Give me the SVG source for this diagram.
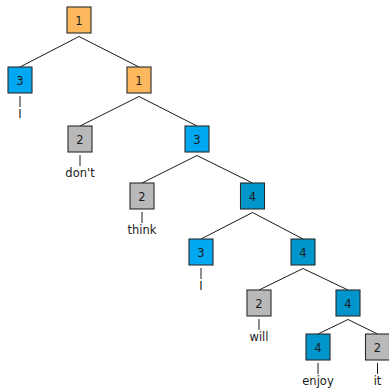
<svg xmlns="http://www.w3.org/2000/svg" width="389" height="390" viewBox="0 0 389 390">
<style>
.b{stroke:#2a2a2a;stroke-width:1.1}
.o{fill:#fdb85e}
.c{fill:#00a8f0}
.d{fill:#0096cc}
.g{fill:#b9b9b9}
text{font-family:"DejaVu Sans",sans-serif;font-size:11.5px;fill:#1a1a1a;text-anchor:middle}
.e{stroke:#1a1a1a;stroke-width:1;fill:none}
</style>
<rect width="389" height="390" fill="#fff"/>
<g id="connectors" class="e">
<line x1="79" y1="36.5" x2="20" y2="67"/>
<line x1="79" y1="36.5" x2="139" y2="67"/>
<line x1="139" y1="96.5" x2="80" y2="126"/>
<line x1="139" y1="96.5" x2="197" y2="126"/>
<line x1="197" y1="155.5" x2="142" y2="183"/>
<line x1="197" y1="155.5" x2="252.5" y2="183"/>
<line x1="252.5" y1="212.5" x2="201" y2="239"/>
<line x1="252.5" y1="212.5" x2="303" y2="239"/>
<line x1="303" y1="268.5" x2="259" y2="290"/>
<line x1="303" y1="268.5" x2="348" y2="290"/>
<line x1="348" y1="319.5" x2="318" y2="334"/>
<line x1="348" y1="319.5" x2="377.5" y2="334"/>
<line x1="20" y1="96" x2="20" y2="107"/>
<line x1="80" y1="155" x2="80" y2="166"/>
<line x1="142" y1="212" x2="142" y2="223"/>
<line x1="201" y1="268" x2="201" y2="279"/>
<line x1="259" y1="319" x2="259" y2="330"/>
<line x1="318" y1="363" x2="318" y2="374"/>
<line x1="377.5" y1="363" x2="377.5" y2="374"/>
</g>
<g id="n1"><rect class="b o" x="67" y="7" width="24" height="26"/><text x="79" y="24.5">1</text></g>
<g id="n3a"><rect class="b c" x="8" y="67" width="24" height="26"/><text x="20" y="84.5">3</text><text x="20" y="118">I</text></g>
<g id="n1b"><rect class="b o" x="127" y="67" width="24" height="26"/><text x="139" y="84.5">1</text></g>
<g id="n2a"><rect class="b g" x="68" y="126" width="24" height="26"/><text x="80" y="143.5">2</text><text x="80" y="177">don't</text></g>
<g id="n3b"><rect class="b c" x="185" y="126" width="24" height="26"/><text x="197" y="143.5">3</text></g>
<g id="n2b"><rect class="b g" x="130" y="183" width="24" height="26"/><text x="142" y="200.5">2</text><text x="142" y="234">think</text></g>
<g id="n4a"><rect class="b d" x="240.5" y="183" width="24" height="26"/><text x="252.5" y="200.5">4</text></g>
<g id="n3c"><rect class="b c" x="189" y="239" width="24" height="26"/><text x="201" y="256.5">3</text><text x="201" y="290">I</text></g>
<g id="n4b"><rect class="b d" x="291" y="239" width="24" height="26"/><text x="303" y="256.5">4</text></g>
<g id="n2c"><rect class="b g" x="247" y="290" width="24" height="26"/><text x="259" y="307.5">2</text><text x="259" y="341">will</text></g>
<g id="n4c"><rect class="b d" x="336" y="290" width="24" height="26"/><text x="348" y="307.5">4</text></g>
<g id="n4d"><rect class="b d" x="306" y="334" width="24" height="26"/><text x="318" y="351.5">4</text><text x="318" y="385">enjoy</text></g>
<g id="n2d"><rect class="b g" x="365.5" y="334" width="24" height="26"/><text x="377.5" y="351.5">2</text><text x="377.5" y="385">it</text></g>
</svg>
